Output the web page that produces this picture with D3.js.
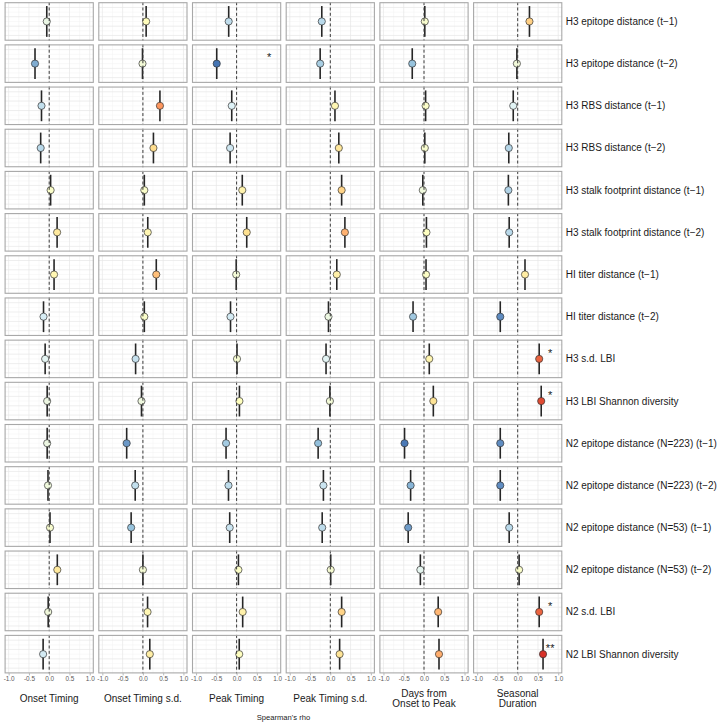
<!DOCTYPE html>
<html>
<head>
<meta charset="utf-8">
<script src="https://cdn.jsdelivr.net/npm/d3@7"></script>
<style>
  html, body { margin: 0; padding: 0; background: #fff; }
  svg { display: block; font-family: "Liberation Sans", Arial, Helvetica, sans-serif; }
</style>
</head>
<body>
<svg id="chart" width="720" height="723"></svg>
<script>
// ---------------- DATA ----------------
const predictors = [
  "H3 epitope distance (t\u22121)",
  "H3 epitope distance (t\u22122)",
  "H3 RBS distance (t\u22121)",
  "H3 RBS distance (t\u22122)",
  "H3 stalk footprint distance (t\u22121)",
  "H3 stalk footprint distance (t\u22122)",
  "HI titer distance (t\u22121)",
  "HI titer distance (t\u22122)",
  "H3 s.d. LBI",
  "H3 LBI Shannon diversity",
  "N2 epitope distance (N=223) (t\u22121)",
  "N2 epitope distance (N=223) (t\u22122)",
  "N2 epitope distance (N=53) (t\u22121)",
  "N2 epitope distance (N=53) (t\u22122)",
  "N2 s.d. LBI",
  "N2 LBI Shannon diversity"
];
const outcomes = [
  ["Onset Timing"],
  ["Onset Timing s.d."],
  ["Peak Timing"],
  ["Peak Timing s.d."],
  ["Days from", "Onset to Peak"],
  ["Seasonal", "Duration"]
];
// Spearman's rho per outcome (one value per predictor, in predictor order)
const rhoOnsetTiming   = [-0.06, -0.35, -0.19, -0.21, 0.035, 0.195, 0.12, -0.14, -0.10, -0.05, -0.05, -0.03, 0.02, 0.20, -0.025, -0.15];
const rhoOnsetTimingSd = [0.08, -0.01, 0.42, 0.26, 0.035, 0.12, 0.33, 0.035, -0.18, -0.035, -0.40, -0.19, -0.29, 0.0, 0.115, 0.17];
const rhoPeakTiming    = [-0.195, -0.49, -0.12, -0.16, 0.14, 0.25, -0.01, -0.15, 0.01, 0.07, -0.26, -0.20, -0.17, 0.045, 0.15, 0.065];
const rhoPeakTimingSd  = [-0.21, -0.25, 0.115, 0.21, 0.28, 0.36, 0.16, -0.045, -0.105, -0.01, -0.30, -0.17, -0.20, 0.01, 0.28, 0.23];
const rhoOnsetToPeak   = [0.02, -0.29, 0.04, 0.02, -0.03, 0.06, 0.05, -0.27, 0.13, 0.23, -0.48, -0.33, -0.39, -0.09, 0.35, 0.37];
const rhoDuration      = [0.29, -0.02, -0.11, -0.22, -0.23, -0.21, 0.18, -0.43, 0.53, 0.58, -0.43, -0.43, -0.21, 0.035, 0.53, 0.625];
const rhoByOutcome = [rhoOnsetTiming, rhoOnsetTimingSd, rhoPeakTiming, rhoPeakTimingSd, rhoOnsetToPeak, rhoDuration];
// significance markers: [predictor index, outcome index, label]
const signif = [
  [1, 2, "*"],
  [8, 5, "*"],
  [9, 5, "*"],
  [14, 5, "*"],
  [15, 5, "**"]
];
const signifX = 0.8;
const xTicks = [-1.0, -0.5, 0.0, 0.5, 1.0];
const xMinor = [-0.75, -0.25, 0.25, 0.75];
const xLabel = "Spearman's rho";
// ---------------- LAYOUT ----------------
const svg = d3.select("#chart");
const pw = 89.2, ph = 38.5;
const colX0 = 4.6, colStep = 93.7;
const rowY0 = 2.2, rowStep = 42.18;

const x = d3.scaleLinear().domain([-1.1, 1.1]).range([0, pw]);
const y = d3.scaleLinear().domain([-1.1, 1.1]).range([ph, 0]);
const yGridMajor = [-0.8, -0.27, 0.27, 0.8];
const yGridMinor = [-0.53, 0, 0.53];

const allVals = rhoByOutcome.flat();
const ext = d3.extent(allVals);
const pal = ["#d73027", "#fc8d59", "#fee090", "#ffffbf", "#e0f3f8", "#91bfdb", "#4575b4"];
const color = d3.scaleLinear()
  .domain(d3.range(7).map(i => ext[1] - i * (ext[1] - ext[0]) / 6))
  .range(pal)
  .interpolate(d3.interpolateLab);

const nRows = predictors.length, nCols = outcomes.length;

for (let r = 0; r < nRows; r++) {
  for (let c = 0; c < nCols; c++) {
    const g = svg.append("g")
      .attr("transform", `translate(${colX0 + c * colStep},${rowY0 + r * rowStep})`);
    g.append("rect").attr("width", pw).attr("height", ph).attr("fill", "#fff");
    // minor grid
    g.selectAll(".vmin").data(xMinor).join("line")
      .attr("x1", d => x(d)).attr("x2", d => x(d)).attr("y1", 0).attr("y2", ph)
      .attr("stroke", "#f2f2f2").attr("stroke-width", 0.5);
    g.selectAll(".hmin").data(yGridMinor).join("line")
      .attr("y1", d => y(d)).attr("y2", d => y(d)).attr("x1", 0).attr("x2", pw)
      .attr("stroke", "#f2f2f2").attr("stroke-width", 0.5);
    // major grid
    g.selectAll(".vmaj").data(xTicks).join("line")
      .attr("x1", d => x(d)).attr("x2", d => x(d)).attr("y1", 0).attr("y2", ph)
      .attr("stroke", "#e6e6e6").attr("stroke-width", 0.7);
    g.selectAll(".hmaj").data(yGridMajor).join("line")
      .attr("y1", d => y(d)).attr("y2", d => y(d)).attr("x1", 0).attr("x2", pw)
      .attr("stroke", "#e6e6e6").attr("stroke-width", 0.7);

    const v = rhoByOutcome[c][r];
    // vertical range line
    g.append("line")
      .attr("x1", x(v)).attr("x2", x(v)).attr("y1", y(0.88)).attr("y2", y(-0.88))
      .attr("stroke", "#262626").attr("stroke-width", 1.6);
    // point
    g.append("circle")
      .attr("cx", x(v)).attr("cy", y(0)).attr("r", 3.6)
      .attr("fill", color(v)).attr("stroke", "#333").attr("stroke-width", 0.7);
    // zero line
    g.append("line")
      .attr("x1", x(0)).attr("x2", x(0)).attr("y1", 0).attr("y2", ph)
      .attr("stroke", "#3a3a3a").attr("stroke-width", 1).attr("stroke-dasharray", "3,2.3");
    // border
    g.append("rect").attr("x", 0.5).attr("y", 0.5).attr("width", pw - 1).attr("height", ph - 1)
      .attr("fill", "none").attr("stroke", "#a8a8a8").attr("stroke-width", 1.1);

    // significance
    signif.filter(s => s[0] === r && s[1] === c).forEach(s => {
      g.append("text")
        .attr("x", x(signifX)).attr("y", 17)
        .attr("text-anchor", "middle")
        .attr("font-size", 11).attr("fill", "#1a1a1a")
        .text(s[2]);
    });

    // bottom axis
    if (r === nRows - 1) {
      const ax = g.append("g").attr("transform", `translate(0,${ph})`)
        .call(d3.axisBottom(x).tickValues(xTicks).tickFormat(d3.format(".1f")).tickSize(2).tickPadding(1));
      ax.select(".domain").remove();
      ax.selectAll(".tick line").attr("stroke", "#888").attr("stroke-width", 0.6);
      ax.selectAll(".tick text").attr("fill", "#5a5a5a").attr("font-size", 6.4)
        .attr("font-family", "Liberation Sans, Arial, sans-serif")
        .text(d => d3.format(".1f")(d).replace("\u2212", "-"));
    }
  }
  // row label
  svg.append("text")
    .attr("x", colX0 + (nCols - 1) * colStep + pw + 3.4)
    .attr("y", rowY0 + r * rowStep + ph / 2)
    .attr("dy", "0.35em")
    .attr("font-size", 10).attr("fill", "#1a1a1a")
    .text(predictors[r]);
}

// column titles
outcomes.forEach((lines, c) => {
  const cx = colX0 + c * colStep + x(0);
  const t = svg.append("text").attr("text-anchor", "middle")
    .attr("font-size", 10).attr("fill", "#1a1a1a");
  const lh = 10.7;
  const yc = 698.6;
  lines.forEach((ln, i) => {
    t.append("tspan").attr("x", cx)
      .attr("y", yc + (i - (lines.length - 1) / 2) * lh)
      .attr("dy", "0.35em").text(ln);
  });
});

// x axis title
svg.append("text")
  .attr("x", colX0 + ((nCols - 1) * colStep + pw) / 2)
  .attr("y", 717)
  .attr("dy", "0.35em")
  .attr("text-anchor", "middle")
  .attr("font-size", 7.6).attr("fill", "#1a1a1a")
  .text(xLabel);
</script>
</body>
</html>
